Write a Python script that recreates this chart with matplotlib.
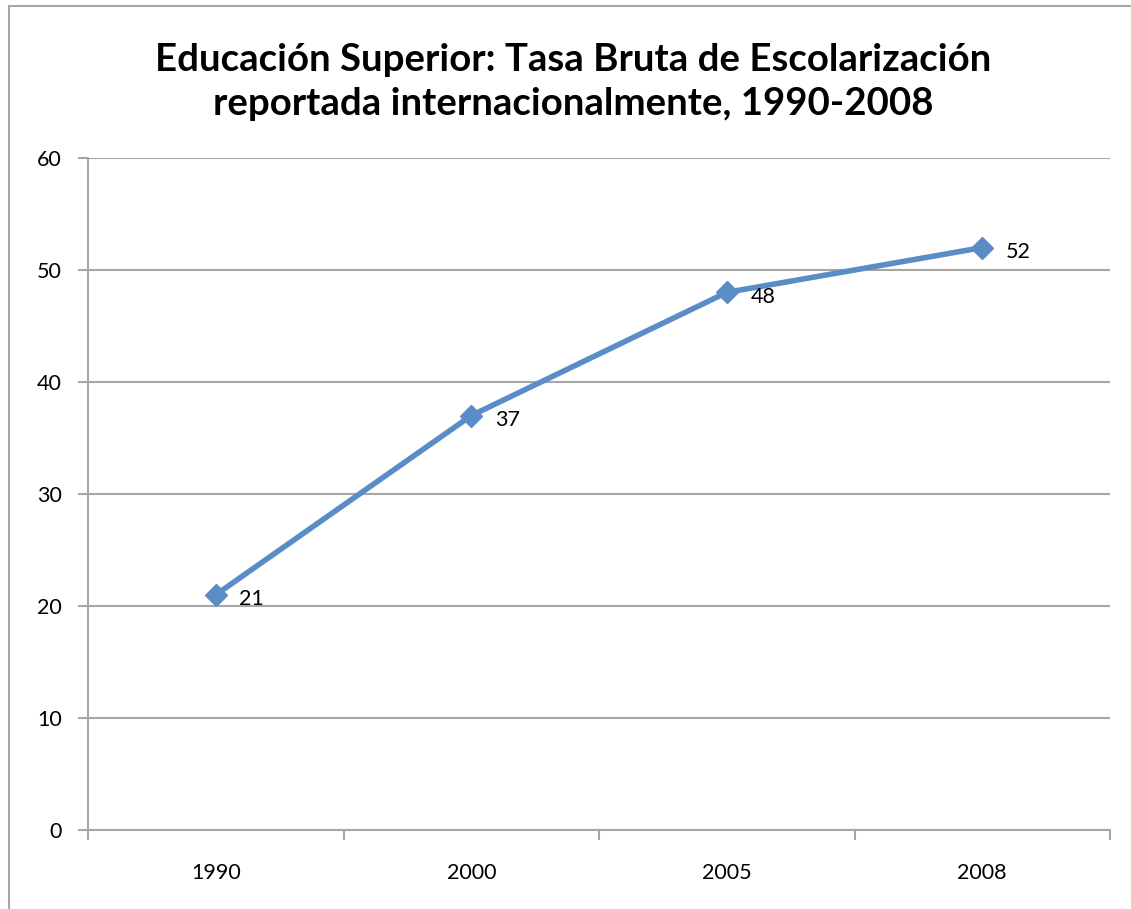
import matplotlib
matplotlib.use('Agg')
from matplotlib import pyplot as plt
from matplotlib.lines import Line2D

years = ['1990', '2000', '2005', '2008']
tasa = [21, 37, 48, 52]
yticks = [0, 10, 20, 30, 40, 50, 60]
title = 'Educación Superior: Tasa Bruta de Escolarización\nreportada internacionalmente, 1990-2008'

plt.rcParams['font.family'] = ['Lato', 'DejaVu Sans']

fig = plt.figure(figsize=(11.31, 9.09), dpi=100)
W, H = 1131.0, 909.0

# outer chart frame (only left and top edges visible in the crop)
fig.add_artist(Line2D([9 / W, 9 / W], [0, 1 - 6 / H], transform=fig.transFigure,
                      color='#a6a6a6', lw=1.5))
fig.add_artist(Line2D([9 / W, 1], [1 - 6 / H, 1 - 6 / H], transform=fig.transFigure,
                      color='#a6a6a6', lw=1.5))

ax = fig.add_axes([88 / W, 1 - 830 / H, (1110 - 88) / W, (830 - 158) / H])

x = list(range(len(years)))
ax.plot(x, tasa, color='#5a8dc8', lw=4, marker='D', ms=11, zorder=3,
        solid_capstyle='round')
for xi, v in zip(x, tasa):
    ax.annotate(str(v), (xi, v), xytext=(17, -3), textcoords='offset points',
                ha='left', va='center', fontsize=15.5, color='black')

ax.set_xlim(-0.5, len(years) - 0.5)
ax.set_ylim(0, 60)
ax.set_yticks(yticks)
ax.set_yticklabels([str(t) for t in yticks], fontsize=15.5)
ax.yaxis.grid(True, color='#a6a6a6', lw=1.5)
ax.set_axisbelow(True)

ax.set_xticks(x)
ax.set_xticklabels(years, fontsize=15.5)
ax.set_xticks([i - 0.5 for i in range(len(years) + 1)], minor=True)
ax.tick_params(axis='x', which='major', length=0, pad=24)
ax.tick_params(axis='x', which='minor', length=7, color='#a6a6a6', width=1.5, direction='out')
ax.tick_params(axis='y', length=7, color='#a6a6a6', width=1.5, pad=12)

for side in ['top', 'right']:
    ax.spines[side].set_visible(False)
for side in ['left', 'bottom']:
    ax.spines[side].set_color('#a6a6a6')
    ax.spines[side].set_linewidth(1.5)

fig.text(573 / W, 1 - 82 / H, title, ha='center', va='center', fontsize=27.6,
         fontweight='bold', linespacing=1.38)

fig.savefig('out.png', dpi=100)
